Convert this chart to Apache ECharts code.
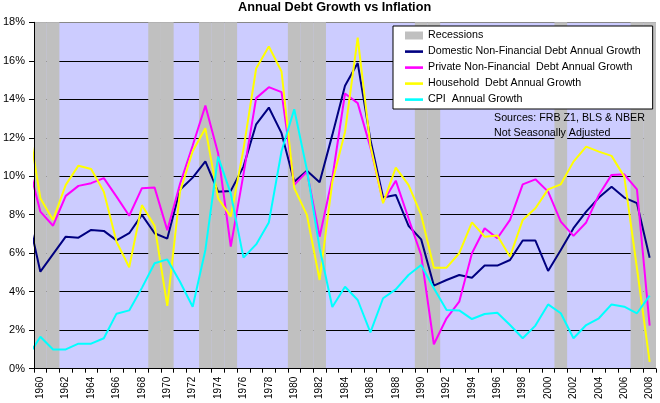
<!DOCTYPE html>
<html><head><meta charset="utf-8">
<script src="https://cdn.jsdelivr.net/npm/echarts@6/dist/echarts.min.js"></script>
<style>html,body{margin:0;padding:0;background:#fff}#c{width:660px;height:403px}</style>
</head><body><div id="c"></div>
<script>
// Years plotted (1959 point is only partly visible, clipped at the left edge)
const years = [1959,1960,1961,1962,1963,1964,1965,1966,1967,1968,1969,1970,1971,1972,1973,1974,1975,1976,1977,1978,1979,1980,1981,1982,1983,1984,1985,1986,1987,1988,1989,1990,1991,1992,1993,1994,1995,1996,1997,1998,1999,2000,2001,2002,2003,2004,2005,2006,2007,2008];
const categories = ['1960','1961','1962','1963','1964','1965','1966','1967','1968','1969','1970','1971','1972','1973','1974','1975','1976','1977','1978','1979','1980','1981','1982','1983','1984','1985','1986','1987','1988','1989','1990','1991','1992','1993','1994','1995','1996','1997','1998','1999','2000','2001','2002','2003','2004','2005','2006','2007','2008'];
const recessionYears = [1960,1961,1969,1970,1973,1974,1975,1980,1981,1982,1990,1991,2001,2007,2008];
const recessionHeight = 18;

const domestic = [8.0,5.04,5.95,6.86,6.81,7.21,7.16,6.67,7.04,7.99,7.04,6.76,9.3,9.93,10.77,9.2,9.24,10.5,12.7,13.57,12.24,9.72,10.28,9.69,12.15,14.7,15.88,11.9,8.9,9.03,7.43,6.72,4.32,4.61,4.87,4.73,5.36,5.36,5.65,6.66,6.66,5.08,6.17,7.3,8.16,8.89,9.46,8.89,8.6,5.77];
const privateNF = [10.76,8.16,7.43,8.98,9.5,9.64,9.9,8.94,7.95,9.38,9.41,7.2,9.6,11.6,13.67,11.2,6.35,10.1,14.06,14.63,14.37,9.55,10.24,6.86,9.9,14.3,13.8,11.5,8.68,9.77,7.82,5.9,1.27,2.62,3.48,6.0,7.3,6.78,7.73,9.58,9.84,9.2,7.64,6.9,7.6,9.03,10.07,10.1,9.32,2.24];
const household = [12.94,8.86,7.73,9.55,10.55,10.38,9.2,6.6,5.27,8.5,7.43,3.26,9.2,11.3,12.5,8.86,7.9,11.4,15.6,16.74,15.44,9.38,7.99,4.61,9.7,12.3,17.2,11.6,8.6,10.45,9.55,7.99,5.25,5.25,6.0,7.6,6.86,6.92,5.82,7.73,8.34,9.32,9.58,10.76,11.54,11.28,11.06,9.98,5.22,0.36];
const cpi = [0.62,1.66,1.0,1.0,1.3,1.3,1.58,2.86,3.03,4.2,5.48,5.68,4.52,3.22,6.17,11.02,9.1,5.77,6.46,7.6,11.3,13.48,10.33,6.26,3.21,4.26,3.57,1.89,3.66,4.12,4.87,5.39,4.18,3.05,3.03,2.58,2.84,2.91,2.27,1.58,2.24,3.34,2.88,1.58,2.27,2.62,3.34,3.22,2.88,3.8];

const seriesNames = ['Recessions','Domestic Non-Financial Debt Annual Growth','Private Non-Financial  Debt Annual Growth','Household  Debt Annual Growth','CPI  Annual Growth'];
const FONT = 'Liberation Sans, Arial, sans-serif';
const LINE_ICON = 'path://M0,0L0,0M0,2.8L18,2.8L18,5.4L0,5.4ZM18,8L18,8';

function pairs(vals){ return years.map((y,i)=>[y, vals[i]]); }
function lineSeries(name, vals, color){
  return {name:name, type:'line', xAxisIndex:1, yAxisIndex:0, data:pairs(vals), symbol:'none', showSymbol:false,
    clip:true, lineStyle:{color:color, width:2}, itemStyle:{color:color}, z:3, silent:true};
}

const chart = echarts.init(document.getElementById('c'), null, {renderer:'canvas'});
chart.setOption({
  animation:false,
  textStyle:{fontFamily:FONT},
  title:{text:'Annual Debt Growth vs Inflation', left:238, top:1, padding:0,
    textStyle:{fontFamily:FONT, fontSize:12.7, fontWeight:'bold', color:'#000'}},
  legend:{orient:'vertical', left:393, top:26, padding:[4,12,4,12], itemGap:5, itemWidth:18, itemHeight:8,
    backgroundColor:'#fff', borderColor:'#000', borderWidth:1, borderRadius:0, z:10,
    textStyle:{fontFamily:FONT, fontSize:10.7, color:'#000'},
    data:[{name:seriesNames[0], icon:'rect'},
          {name:seriesNames[1], icon:LINE_ICON},
          {name:seriesNames[2], icon:LINE_ICON},
          {name:seriesNames[3], icon:LINE_ICON},
          {name:seriesNames[4], icon:LINE_ICON}]},
  graphic:[{type:'text', left:494, top:111, z:10,
    style:{text:'Sources: FRB Z1, BLS & NBER\nNot Seasonally Adjusted', font:'10.7px '+FONT, fill:'#000', lineHeight:14.5}}],
  grid:{left:31.7, right:4, top:22.3, bottom:34.3, show:true, backgroundColor:'#CCCCFF', borderWidth:0},
  xAxis:[
    {type:'category', data:categories, boundaryGap:true, z:5,
     axisLine:{show:true, lineStyle:{color:'#000', width:1}},
     axisTick:{show:true, interval:0, length:4, lineStyle:{color:'#000'}},
     axisLabel:{interval:1, rotate:90, fontSize:10, margin:8, color:'#000', fontFamily:FONT},
     splitLine:{show:false}},
    {type:'value', min:1959.5, max:2008.5, show:false}
  ],
  yAxis:[
    {type:'value', min:0, max:18, interval:2, z:0,
     axisLine:{show:false}, axisTick:{show:false}, axisLabel:{show:false},
     splitLine:{show:true, lineStyle:{color:['#000','#000','#000','#000','#000','#000','#000','#000','#000','#888'], width:1}}},
    {type:'value', min:0, max:18, interval:2, position:'left', z:5,
     axisLine:{show:true, lineStyle:{color:'#000', width:1}},
     axisTick:{show:true, length:5, lineStyle:{color:'#000'}},
     axisLabel:{formatter:'{value}%', fontSize:11, margin:9, color:'#000', fontFamily:FONT},
     splitLine:{show:false}}
  ],
  series:[
    {name:seriesNames[0], type:'bar', xAxisIndex:0, yAxisIndex:0, barCategoryGap:'0%', silent:true, z:2,
     data:categories.map(c => recessionYears.includes(Number(c)) ? recessionHeight : null),
     itemStyle:{color:'#C0C0C0'}},
    lineSeries(seriesNames[1], domestic, '#000080'),
    lineSeries(seriesNames[2], privateNF, '#FF00FF'),
    lineSeries(seriesNames[3], household, '#FFFF00'),
    lineSeries(seriesNames[4], cpi, '#00FFFF')
  ]
});
</script></body></html>
